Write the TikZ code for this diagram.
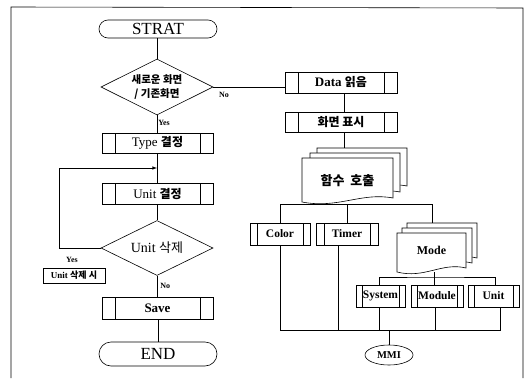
\documentclass[tikz,border=0pt]{standalone}
\usepackage{fontspec}
\setmainfont{Liberation Serif}
\newfontfamily\kr{Noto Sans CJK KR}
\usetikzlibrary{calc,positioning,arrows,shapes.geometric}

% one page of a document symbol, corners (x0,y0) and (x1,y1), y runs down
\newcommand{\docpage}[4]{%
  \draw[fill=white] (#1,#2) -- (#3,#2) -- (#3,#4-4)
     .. controls ({#3-0.35*(#3-#1)},#4-10) and ({#1+0.4*(#3-#1)},#4+7) .. (#1,#4) -- cycle;}

\begin{document}
\begin{tikzpicture}
[x=1pt,y=-1pt,line width=0.6pt]

    \tikzstyle{every node}=[font=\fontsize{13}{15}\selectfont]
    \tikzstyle{term}=[draw,rectangle,minimum width=118pt,inner sep=0pt,
                      font=\fontsize{17}{18}\selectfont]
    \tikzstyle{dec}=[draw,diamond,aspect=2,inner sep=0pt,
                     minimum width=112pt,minimum height=56pt]
    \tikzstyle{tiny}=[font=\bfseries\fontsize{8}{9}\selectfont,inner sep=1pt]
    \tikzset{proc/.style={draw,rectangle,inner sep=0pt,
        path picture={\draw ([xshift=#1]path picture bounding box.north west)
                          -- ([xshift=#1]path picture bounding box.south west)
                            ([xshift=-#1]path picture bounding box.north east)
                          -- ([xshift=-#1]path picture bounding box.south east);}},
        proc/.default=13pt}
    \tikzstyle{small}=[proc=7pt,minimum height=22pt,
                       font=\bfseries\fontsize{11.5}{12}\selectfont]

    \useasboundingbox (0,0) rectangle (528,378);
    % frame
    \draw (11,378) -- (11,7) -- (523,8) -- (523,378);

    % left column
    \node (start) [term,rounded corners=9pt,minimum height=18pt] at (158,29) {STRAT};
    \node (d1) [dec,font=\kr\bfseries\fontsize{10.5}{14}\selectfont,align=center] at (157,87)
        {새로운 화면\\/ 기존화면};
    \node (type) [proc,minimum width=111pt,minimum height=20pt] at (157.5,143)
        {Type {\kr\bfseries\fontsize{12}{14}\selectfont 결정}};
    \node (unitset) [proc,minimum width=111pt,minimum height=21pt] at (157.5,194)
        {Unit {\kr\bfseries\fontsize{12}{14}\selectfont 결정}};
    \node (d2) [dec,minimum height=55pt,font=\fontsize{14}{15}\selectfont] at (157,248)
        {Unit {\kr\fontsize{13}{15}\selectfont 삭제}};
    \node (save) [proc,minimum width=111pt,minimum height=22pt,font=\bfseries\fontsize{13}{15}\selectfont]
        at (157.5,308) {Save};
    \node (end) [term,rounded corners=12pt,minimum height=24pt] at (158,354) {END};

    \coordinate (ret) at (157,168);

    \draw (start.south -| d1.north) -- (d1.north);
    \draw (d1.south) -- (type.north -| d1.south) node [tiny,pos=0.45,right] {Yes};
    \draw (type.south -| d1.south) -- (unitset.north -| d1.south);
    \draw (unitset.south -| d2.north) -- (d2.north);
    \draw (d2.south) -- (save.north -| d2.south) node [tiny,midway,right=2pt] {No};
    \draw (save.south -| end.north) -- (end.north);
    \draw[-latex] (d2.west) -- ++(-41,0) coordinate (back) |- (ret);
    \node (yes2) [tiny] at (72,260) {Yes};
    \node (del) [draw,font=\bfseries\fontsize{9}{10}\selectfont,inner sep=1pt,
                 minimum width=62pt,minimum height=15pt] at (74,275.5) {Unit {\kr 삭제 시}};

    % right column
    \node (data) [proc,minimum width=112pt,minimum height=21pt] at (341,82.5)
        {\bfseries Data {\kr\fontsize{12}{14}\selectfont 읽음}};
    \node (show) [proc,minimum width=112pt,minimum height=20pt] at (341,122)
        {\kr\bfseries\fontsize{12}{14}\selectfont 화면 표시};
    \draw (d1.east) -- (d1.east -| data.west) node [tiny,pos=0.15,below=4pt] {No};
    \draw (data.south -| 344,0) -- (show.north -| 344,0);

    % function call: stack of three pages
    \docpage{317}{148}{407}{190}
    \docpage{310}{153}{400}{196}
    \docpage{302}{158}{393}{202}
    \node (fn) [minimum width=91pt,minimum height=46pt,inner sep=0pt,
                font=\kr\bfseries\fontsize{13}{15}\selectfont] at (347.5,181) {함수\ \ 호출};
    \draw (show.south -| 344,0) -- (344,148);

    \node (color) [small,minimum width=60pt] at (280,234) {Color};
    \node (timer) [small,minimum width=62pt,proc=8pt] at (347,234) {Timer};

    % mode: stack of three pages
    \docpage{407}{223}{477}{262}
    \docpage{402}{228}{472}{267}
    \docpage{397}{233}{466}{272}
    \node (mode) [minimum width=69pt,minimum height=42pt,inner sep=0pt,
                  font=\bfseries\fontsize{12}{13}\selectfont] at (431.5,250) {Mode};
    \coordinate (modetop) at (432,223);

    \draw (fn.south -| timer.north) -- (timer.north);
    \draw (color.north) -- ++(0,-18) -| (modetop);

    \node (system) [small,minimum width=49pt,minimum height=22pt,proc=6pt] at (380.5,296) {System};
    \node (module) [small,minimum width=52pt,minimum height=22pt,proc=6pt] at (437,296) {Module};
    \node (unit)   [small,minimum width=51pt,minimum height=22pt,proc=6pt] at (493.5,296) {Unit};

    \draw (434,272) -- (434,277) coordinate (b2);
    \draw (system.north -| 379,0) |- (b2) -| (unit.north -| 495,0);
    \draw (b2) -- (b2 |- module.north);

    \node (mmi) [draw,ellipse,minimum width=48pt,minimum height=20pt,inner sep=0pt,
                 font=\bfseries\fontsize{10.5}{12}\selectfont] at (389,355) {MMI};
    \draw (mmi.north) -- ++(0,-14) coordinate (b3);
    \draw (color.south) |- (500,0 |- b3) -- (unit.south -| 500,0);
    \draw ([xshift=-9pt]timer.south) -- ([xshift=-9pt]timer.south |- b3);
    \draw (system.south -| 379,0) -- (b3 -| 379,0);
    \draw (module.south -| 435,0) -- (b3 -| 435,0);

\end{tikzpicture}
\end{document}
